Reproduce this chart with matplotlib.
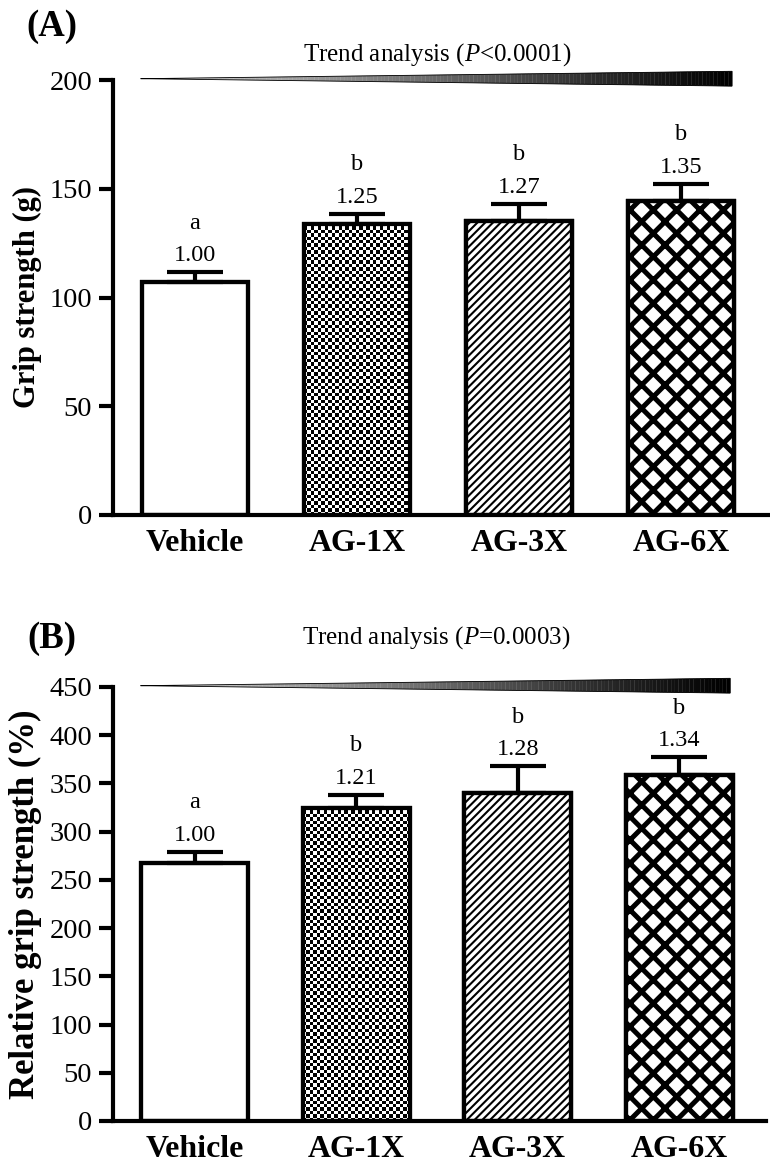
import numpy as np
import matplotlib
matplotlib.use("Agg")
import matplotlib.pyplot as plt
from matplotlib.transforms import blended_transform_factory

plt.rcParams['font.family'] = ['Liberation Serif', 'DejaVu Serif']
plt.rcParams['mathtext.fontset'] = 'custom'
plt.rcParams['mathtext.rm'] = 'Liberation Serif'
plt.rcParams['mathtext.it'] = 'Liberation Serif:italic'

# ---------------- data ----------------
groups = ["Vehicle", "AG-1X", "AG-3X", "AG-6X"]

grip_mean = [107.1, 133.8, 135.3, 144.5]
grip_err = [4.5, 4.6, 7.8, 7.8]
grip_ratio = ["1.00", "1.25", "1.27", "1.35"]
grip_letters = ["a", "b", "b", "b"]
grip_trend = "Trend analysis ($\\mathit{P}$<0.0001)"

rel_mean = [267.6, 325.0, 340.6, 358.6]
rel_err = [11.4, 13.0, 27.0, 18.4]
rel_ratio = ["1.00", "1.21", "1.28", "1.34"]
rel_letters = ["a", "b", "b", "b"]
rel_trend = "Trend analysis ($\\mathit{P}$=0.0003)"

W, H = 770, 1167
DPI = 70
K = 100 / DPI  # sizes below are given as if at 100 dpi
fig = plt.figure(figsize=(W / DPI, H / DPI), dpi=DPI)


def px_axes(left, right, top, bottom):
    return fig.add_axes([left / W, 1 - bottom / H, (right - left) / W, (bottom - top) / H])


def checker(ax, patch, x0, x1, y1, cell_px=3.4):
    p0 = ax.transData.transform((x0, 0))
    p1 = ax.transData.transform((x1, y1))
    nx = max(1, int(round(abs(p1[0] - p0[0]) / cell_px)))
    ny = max(1, int(round(abs(p1[1] - p0[1]) / cell_px)))
    ii, jj = np.indices((ny, nx))
    img = ((ii + jj) % 2).astype(float)
    im = ax.imshow(img, extent=(x0, x1, 0, y1), cmap='gray', vmin=0, vmax=1,
                   interpolation='nearest', aspect='auto', zorder=1.5, origin='lower')
    im.set_clip_path(patch)


def wedge(ax, x0, x1, yc=1.003, h=0.017, n=160):
    trans = blended_transform_factory(ax.transData, ax.transAxes)
    xs = np.linspace(x0, x1, n + 1)
    for k in range(n):
        xa, xb = xs[k], xs[k + 1]
        ha = h * (xa - x0) / (x1 - x0)
        hb = h * (xb - x0) / (x1 - x0)
        g = 0.88 * (1 - (k + 0.5) / n) ** 1.1
        ax.fill([xa, xb, xb, xa], [yc - ha, yc - hb, yc + hb, yc + ha],
                color=(g, g, g), lw=0.3, ec=(g, g, g), transform=trans, clip_on=False, zorder=5)
    ax.plot([x0, x1, x1, x0], [yc, yc + h, yc - h, yc], color='k', lw=0.6 * K,
            transform=trans, clip_on=False, zorder=6, solid_joinstyle='miter')


def panel(ax, means, errs, ratios, letters, ymax, ystep, ylabel, ylabel_size, trend, trend_y):
    x = np.arange(len(groups))
    width = 0.66
    lw = 3 * K
    ax.set_xlim(-0.506, 3.537)
    ax.set_ylim(0, ymax)
    bars = ax.bar(x, means, width=width, color='white', edgecolor='k', linewidth=lw, zorder=1)
    # patterns
    checker(ax, bars[1], x[1] - width / 2, x[1] + width / 2, means[1])
    b3 = ax.bar(x[2], means[2], width=width, color='white', edgecolor='k', hatch='///', linewidth=lw, zorder=2)
    b4 = ax.bar(x[3], means[3], width=width, color='white', edgecolor='k', hatch='x', linewidth=lw, zorder=2)
    try:
        b3[0].set_hatch_linewidth(1.5 * K)
        b4[0].set_hatch_linewidth(3.6 * K)
    except AttributeError:
        pass
    ax.bar(x, means, width=width, fill=False, edgecolor='k', linewidth=lw, zorder=3)
    ax.errorbar(x, means, yerr=[np.zeros(len(errs)), errs], fmt='none', ecolor='k',
                elinewidth=lw, capsize=19.8 * K, capthick=lw, zorder=4)
    for xi, m, e, r, l in zip(x, means, errs, ratios, letters):
        ax.annotate(r, (xi, m + e), xytext=(0, 8 * K), textcoords='offset points',
                    ha='center', va='baseline', fontsize=17.5 * K)
        ax.annotate(l, (xi, m + e), xytext=(0, 31.5 * K), textcoords='offset points',
                    ha='center', va='baseline', fontsize=17.5 * K)
    for s in ['top', 'right']:
        ax.spines[s].set_visible(False)
    for s in ['left', 'bottom']:
        ax.spines[s].set_linewidth(lw)
    ax.set_yticks(np.arange(0, ymax + 1, ystep))
    ax.tick_params(axis='y', length=10 * K, width=lw, pad=5 * K, labelsize=20.5 * K)
    ax.tick_params(axis='x', length=0, pad=10 * K)
    ax.set_xticks(x)
    ax.set_xticklabels(groups, fontsize=23 * K, fontweight='bold')
    ax.set_ylabel(ylabel, fontsize=ylabel_size * K, fontweight='bold', labelpad=5 * K)
    wedge(ax, -0.333, 3.315)
    ax.text(1.494, trend_y, trend, ha='center', va='center', fontsize=18 * K, clip_on=False,
            transform=blended_transform_factory(ax.transData, ax.transAxes))


axA = px_axes(113, 768, 80, 515)
panel(axA, grip_mean, grip_err, grip_ratio, grip_letters, 200, 50,
      "Grip strength (g)", 22, grip_trend, 1 + 25 / 435)
axB = px_axes(113, 766, 687, 1121)
panel(axB, rel_mean, rel_err, rel_ratio, rel_letters, 450, 50,
      "Relative grip strength (%)", 25, rel_trend, 1 + 49 / 434)

fig.text(52 / W, 1 - 26 / H, "(A)", fontsize=26.5 * K, fontweight='bold', ha='center', va='center')
fig.text(52 / W, 1 - 638 / H, "(B)", fontsize=26.5 * K, fontweight='bold', ha='center', va='center')

fig.savefig("out.png", dpi=DPI)
